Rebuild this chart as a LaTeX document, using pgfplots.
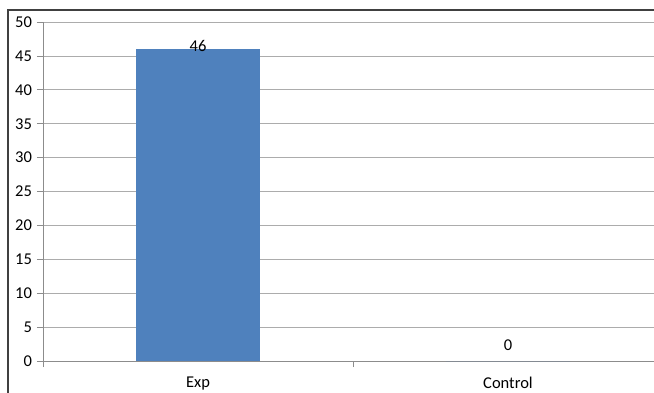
\documentclass[border=0pt]{standalone}
\usepackage{pgfplots}
\pgfplotsset{compat=1.18}
\usepackage{fontspec}
\setmainfont{Carlito}
\definecolor{barblue}{HTML}{4F81BD}
\definecolor{gridgray}{HTML}{ACACAC}
\definecolor{axisgray}{HTML}{8C8C8C}
\definecolor{framegray}{HTML}{404040}
\begin{document}
\begin{tikzpicture}[x=1pt,y=1pt]
\useasboundingbox (0,0) rectangle (654,392);
\clip (0,0) rectangle (654,392);
\draw[framegray, line width=1.5pt] (8,-5) -- (8,382) -- (670,382);
\begin{axis}[
  at={(43pt,31pt)}, anchor=south west,
  scale only axis, width=620pt, height=339pt,
  xmin=-0.5, xmax=1.5, ymin=0, ymax=50,
  axis x line*=bottom, axis y line*=left,
  axis line style={axisgray, line width=0.8pt},
  ytick={0,5,...,50},
  ymajorgrids, grid style={gridgray, line width=0.8pt},
  xtick={0,1}, xticklabels={Exp, Control},
  minor xtick={-0.5,0.5,1.5},
  tick align=outside,
  major tick length=6pt, minor tick length=6pt,
  x tick style={draw=none},
  minor x tick style={draw=axisgray, line width=0.8pt},
  y tick style={draw=axisgray, line width=0.8pt},
  yticklabel style={font=\fontsize{16.5}{18}\selectfont, xshift=-1.5pt},
  xticklabel style={font=\fontsize{16.5}{18}\selectfont, yshift=-6.5pt},
  /pgf/number format/assume math mode=true,
  clip=false,
]
\addplot[ybar, bar width=124pt, bar shift=0pt, fill=barblue, draw=none,
  nodes near coords, nodes near coords style={font=\fontsize{16.5}{18}\selectfont, anchor=base, inner sep=0pt, yshift=-2pt}]
  coordinates {(0,46)};
\addplot[ybar, bar width=124pt, bar shift=0pt, fill=barblue, draw=none,
  nodes near coords, nodes near coords style={font=\fontsize{16.5}{18}\selectfont, anchor=base, inner sep=0pt, yshift=11pt}]
  coordinates {(1,0)};
\end{axis}
\end{tikzpicture}
\end{document}
